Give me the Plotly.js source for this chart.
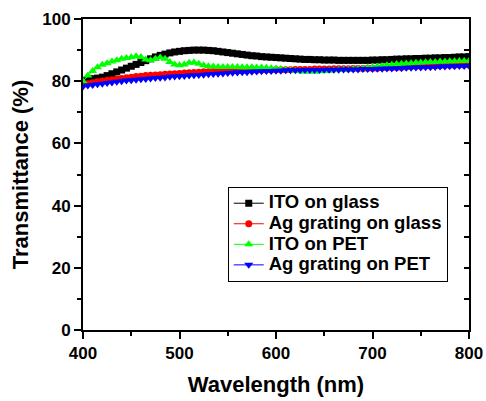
<!DOCTYPE html>
<html>
<head>
<meta charset="utf-8">
<script src="https://cdn.plot.ly/plotly-3.0.1.min.js"></script>
<style>html,body{margin:0;padding:0;background:#fff;}#chart{width:486px;height:401px;}</style>
</head>
<body>
<div id="chart"></div>
<script>
var wavelength = [400,405,410,415,420,425,430,435,440,445,450,455,460,465,470,475,480,485,490,495,500,505,510,515,520,525,530,535,540,545,550,555,560,565,570,575,580,585,590,595,600,605,610,615,620,625,630,635,640,645,650,655,660,665,670,675,680,685,690,695,700,705,710,715,720,725,730,735,740,745,750,755,760,765,770,775,780,785,790,795,800];

var itoGlass = [80.3,80.6,80.8,81.0,81.3,81.8,82.4,83.0,83.6,84.2,84.8,85.4,86.0,86.6,87.2,87.8,88.3,88.7,89.1,89.4,89.6,89.8,89.9,90.0,90.0,90.0,89.9,89.8,89.6,89.4,89.2,89.0,88.8,88.6,88.4,88.2,88.1,87.9,87.8,87.7,87.6,87.5,87.4,87.3,87.2,87.1,87.0,87.0,86.9,86.9,86.8,86.8,86.8,86.7,86.7,86.7,86.7,86.7,86.7,86.7,86.8,86.8,86.9,86.9,87.0,87.1,87.1,87.2,87.2,87.3,87.3,87.4,87.4,87.5,87.5,87.6,87.6,87.7,87.8,87.8,87.9];

var agGlass = [78.9,79.2,79.5,79.8,80.1,80.3,80.5,80.7,80.9,81.1,81.3,81.5,81.6,81.8,81.9,82.0,82.1,82.2,82.3,82.4,82.5,82.6,82.7,82.8,82.9,83.0,83.0,83.1,83.2,83.2,83.3,83.3,83.4,83.4,83.5,83.5,83.5,83.6,83.6,83.6,83.7,83.7,83.7,83.7,83.8,83.8,83.8,83.8,83.9,83.9,83.9,83.9,84.0,84.0,84.0,84.0,84.1,84.1,84.1,84.2,84.2,84.2,84.3,84.3,84.4,84.4,84.5,84.6,84.7,84.8,84.8,84.9,84.9,85.0,85.0,85.1,85.1,85.1,85.2,85.2,85.2];

var itoPet = [80.0,81.8,83.3,84.5,85.3,85.8,86.3,86.7,87.2,87.5,87.7,88.0,87.8,87.0,86.7,87.2,87.6,87.2,86.2,85.4,85.1,85.4,85.9,86.0,85.6,85.1,84.8,84.7,84.6,84.6,84.6,84.6,84.6,84.5,84.5,84.5,84.4,84.4,84.3,84.2,84.1,83.9,83.7,83.5,83.3,83.2,83.1,83.1,83.1,83.2,83.3,83.4,83.5,83.6,83.7,83.8,83.9,84.0,84.1,84.3,84.5,84.7,84.9,85.1,85.3,85.5,85.6,85.7,85.8,85.9,86.0,86.1,86.2,86.2,86.3,86.3,86.4,86.4,86.5,86.5,86.5];

var agPet = [78.3,78.6,78.8,79.0,79.2,79.4,79.6,79.8,80.0,80.2,80.3,80.5,80.6,80.7,80.9,81.0,81.1,81.2,81.4,81.5,81.6,81.7,81.8,81.9,82.0,82.1,82.2,82.3,82.4,82.5,82.6,82.7,82.8,82.9,82.9,83.0,83.1,83.2,83.3,83.3,83.4,83.4,83.5,83.5,83.5,83.5,83.6,83.6,83.6,83.6,83.7,83.7,83.7,83.7,83.8,83.8,83.8,83.8,83.9,83.9,83.9,84.0,84.0,84.1,84.1,84.2,84.2,84.3,84.3,84.4,84.4,84.5,84.5,84.6,84.7,84.7,84.8,84.8,84.9,84.9,85.0];

var seriesNames = ["ITO on glass","Ag grating on glass","ITO on PET","Ag grating on PET"];
var xTicks = [400,500,600,700,800];
var yTicks = [0,20,40,60,80,100];

var FONT = "Liberation Sans, Arial, sans-serif";

function tr(y, name, color, symbol, size){
  return {x: wavelength, y: y, name: '<span style="font-size:18.5px">' + name + '</span>',
    type: "scatter", mode: "lines+markers",
    line: {color: color, width: 1},
    marker: {color: color, symbol: symbol, size: size, line: {width: 0}}};
}

var data = [
  tr(itoGlass, seriesNames[0], "#000000", "square", 7),
  tr(agGlass, seriesNames[1], "#ff0000", "circle", 7),
  tr(itoPet, seriesNames[2], "#00ff00", "triangle-up", 8),
  tr(agPet, seriesNames[3], "#0000ff", "triangle-down", 8),
  {x: [], y: [], xaxis: "x2", yaxis: "y2", showlegend: false, hoverinfo: "skip", type: "scatter"}
];

var axisCommon = {
  showgrid: false, zeroline: false, showline: true, linecolor: "#000", linewidth: 2,
  ticks: "outside", ticklen: 7, tickwidth: 2, tickcolor: "#000",
  tickfont: {family: FONT, size: 17, color: "#000", weight: "bold"}
};

var layout = {
  width: 486, height: 401,
  margin: {l: 83, r: 17, t: 19, b: 71},
  paper_bgcolor: "#fff", plot_bgcolor: "#fff",
  font: {family: FONT, color: "#000"},
  showlegend: true,
  xaxis: Object.assign({}, axisCommon, {
    range: [400, 800], tickvals: xTicks, ticktext: xTicks.map(String),
    minor: {ticks: "outside", ticklen: 4, tickwidth: 2, tickcolor: "#000", dtick: 50},
    title: {text: "Wavelength (nm)", font: {family: FONT, size: 22, color: "#000", weight: "bold"}, standoff: 14}
  }),
  yaxis: Object.assign({}, axisCommon, {
    range: [0, 100], tickvals: yTicks, ticktext: yTicks.map(String),
    minor: {ticks: "outside", ticklen: 4, tickwidth: 2, tickcolor: "#000", dtick: 10},
    title: {text: "Transmittance (%)", font: {family: FONT, size: 22, color: "#000", weight: "bold"}, standoff: 8}
  }),
  xaxis2: {overlaying: "x", side: "top", anchor: "y", range: [400, 800], showgrid: false, zeroline: false,
    showline: true, linecolor: "#000", linewidth: 2, showticklabels: false,
    ticks: "inside", ticklen: 5, tickwidth: 2, tickcolor: "#000", dtick: 50, tick0: 400},
  yaxis2: {overlaying: "y", side: "right", anchor: "x", range: [0, 100], showgrid: false, zeroline: false,
    showline: true, linecolor: "#000", linewidth: 2, showticklabels: false,
    ticks: "inside", ticklen: 5, tickwidth: 2, tickcolor: "#000", dtick: 10, tick0: 0},
  legend: {
    x: 0.375, y: 0.46, xanchor: "left", yanchor: "top",
    bgcolor: "#fff", bordercolor: "#000", borderwidth: 1,
    font: {family: FONT, size: 13.5, color: "#000", weight: "bold"},
    tracegroupgap: 0, itemwidth: 30
  }
};

Plotly.newPlot("chart", data, layout, {displayModeBar: false, staticPlot: true});
</script>
</body>
</html>
